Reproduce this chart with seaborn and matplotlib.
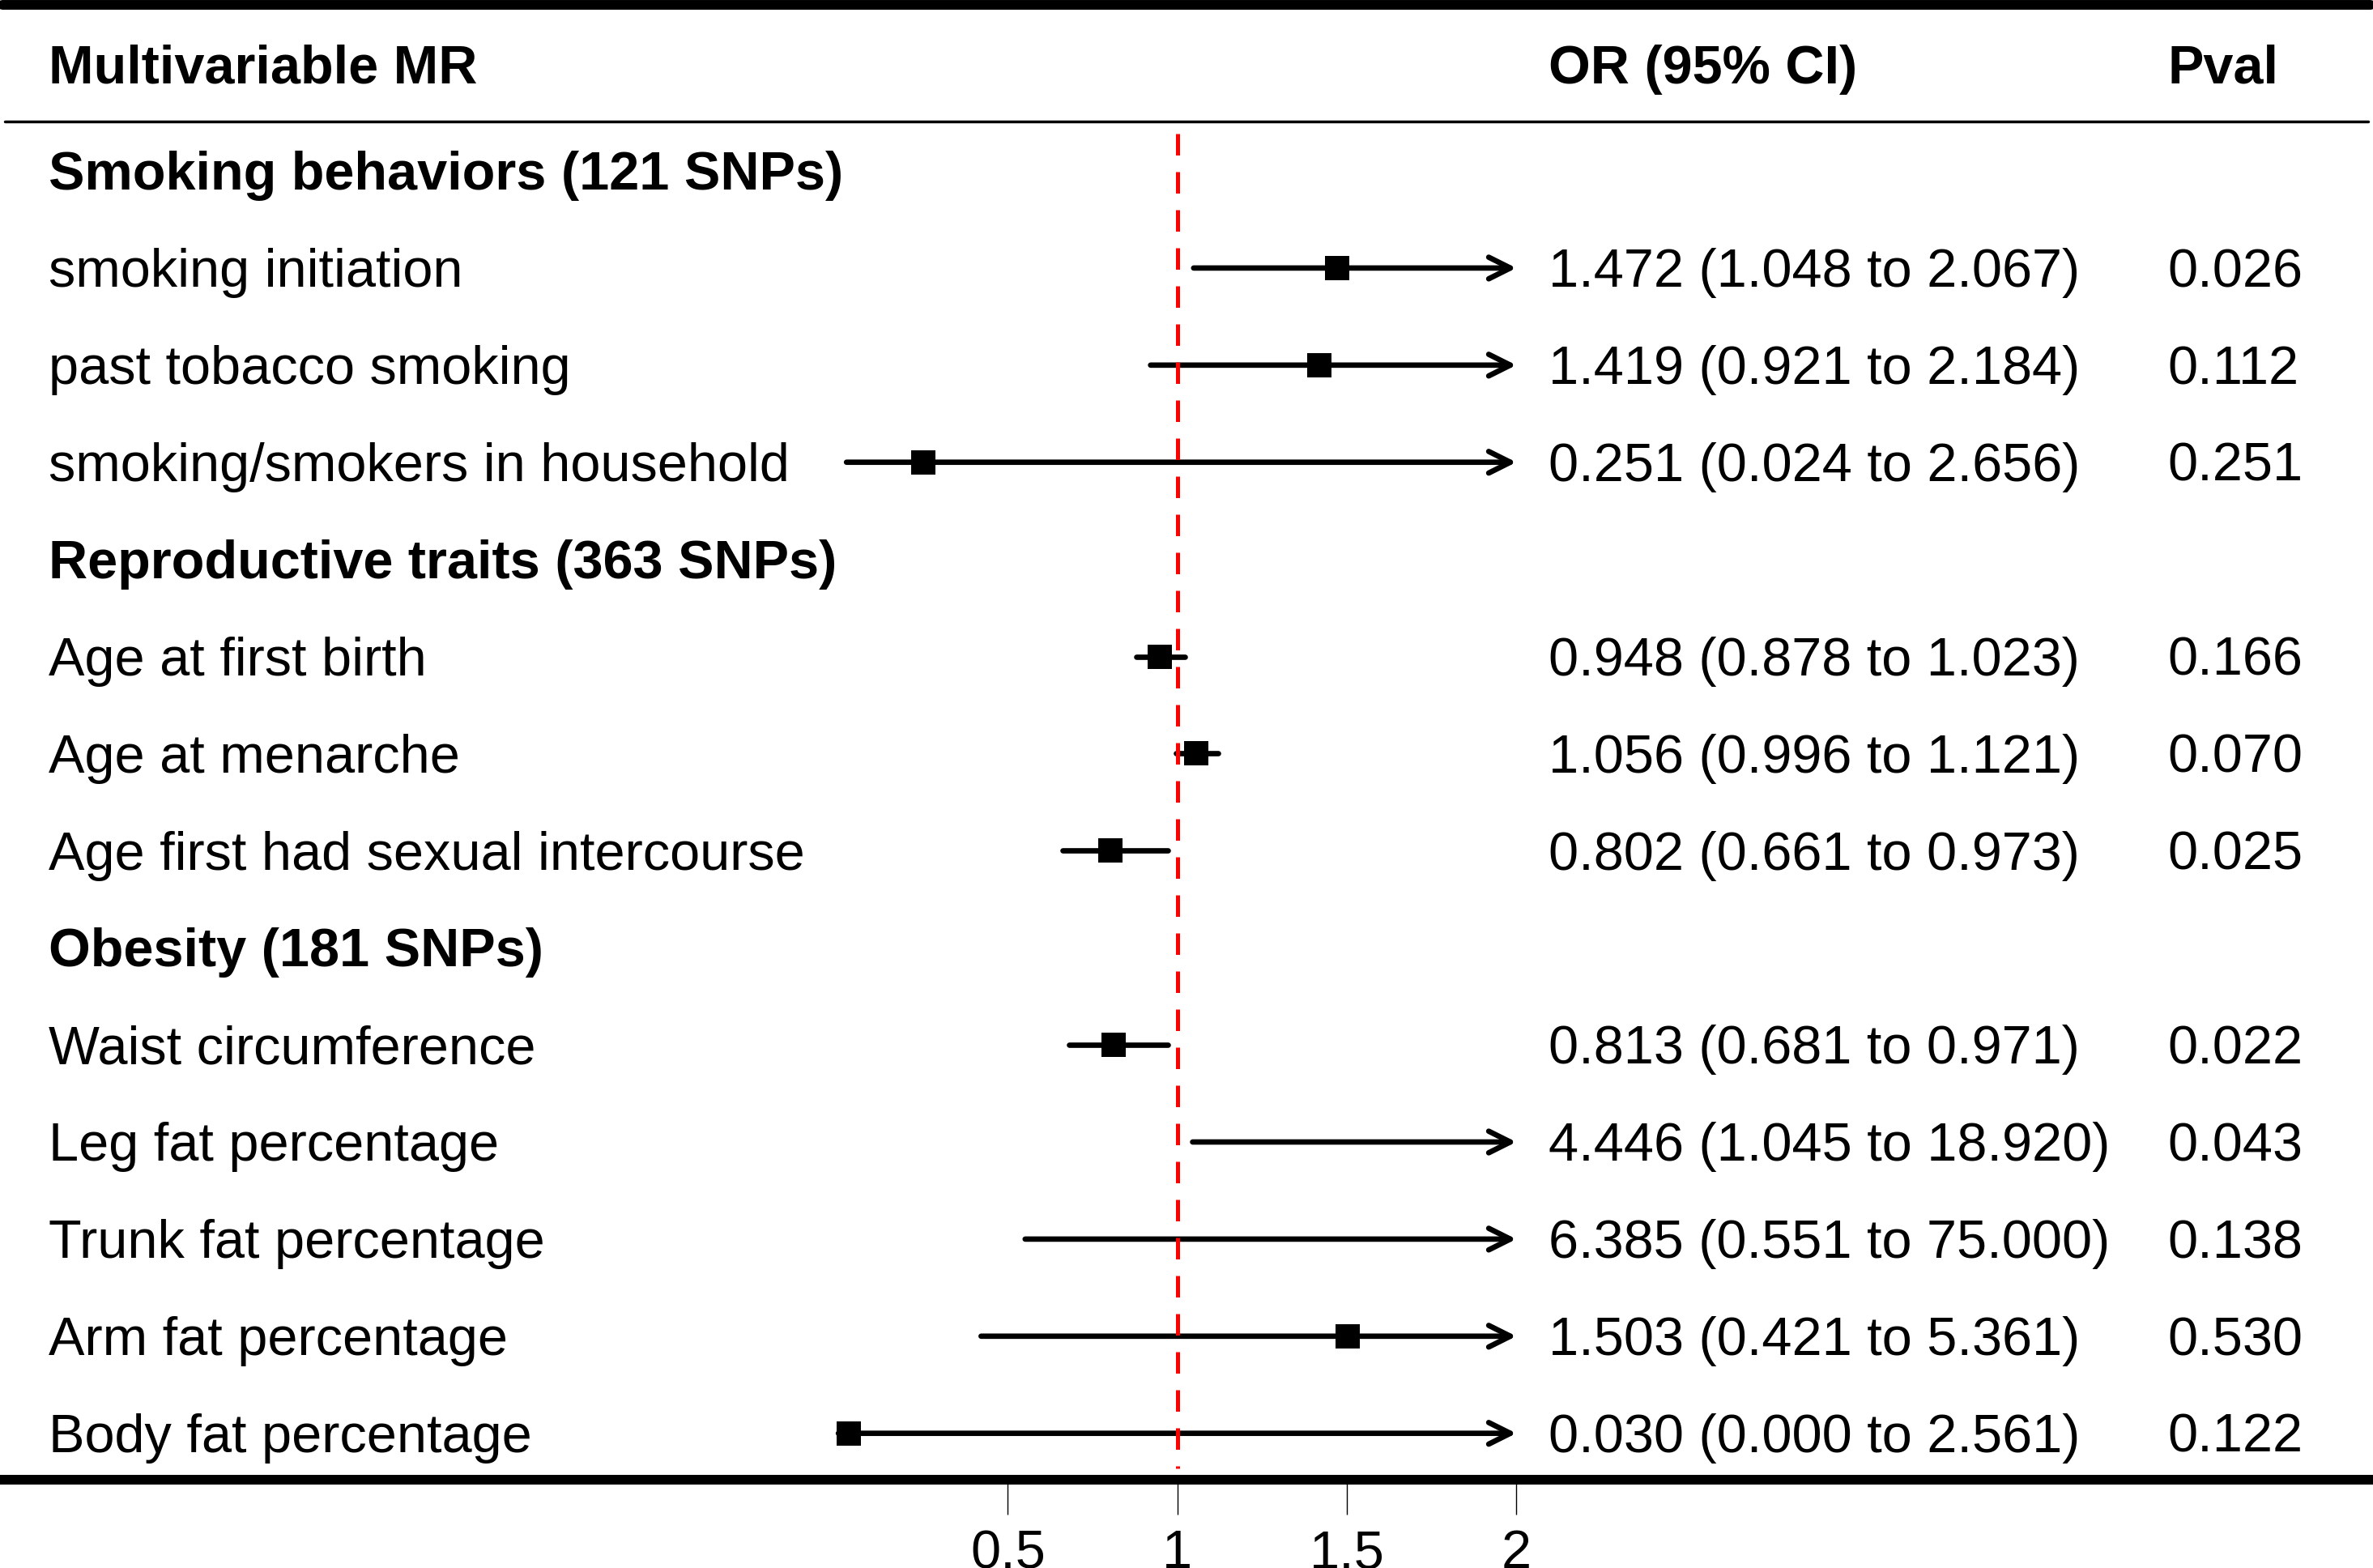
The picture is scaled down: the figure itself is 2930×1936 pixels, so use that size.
import numpy as np
import pandas as pd
import matplotlib.pyplot as plt
from matplotlib.transforms import blended_transform_factory
import seaborn as sns

group_names = ["Smoking behaviors (121 SNPs)",
               "Reproductive traits (363 SNPs)",
               "Obesity (181 SNPs)"]
exposures = ["smoking initiation", "past tobacco smoking", "smoking/smokers in household",
             "Age at first birth", "Age at menarche", "Age first had sexual intercourse",
             "Waist circumference", "Leg fat percentage", "Trunk fat percentage",
             "Arm fat percentage", "Body fat percentage"]
exposure_group = [0, 0, 0, 1, 1, 1, 2, 2, 2, 2, 2]
or_est = [1.472, 1.419, 0.251, 0.948, 1.056, 0.802, 0.813, 4.446, 6.385, 1.503, 0.030]
ci_low = [1.048, 0.921, 0.024, 0.878, 0.996, 0.661, 0.681, 1.045, 0.551, 0.421, 0.000]
ci_high = [2.067, 2.184, 2.656, 1.023, 1.121, 0.973, 0.971, 18.920, 75.000, 5.361, 2.561]
pvals = [0.026, 0.112, 0.251, 0.166, 0.070, 0.025, 0.022, 0.043, 0.138, 0.530, 0.122]
header = ["Multivariable MR", "OR (95% CI)", "Pval"]
x_ticks = [0.5, 1, 1.5, 2]
tick_labels = ["0.5", "1", "1.5", "2"]
null_value = 1

sns.set_theme(style="white")
plt.rcParams['font.family'] = ['Liberation Sans', 'DejaVu Sans']
plt.rcParams['text.color'] = 'black'
plt.rcParams['xtick.color'] = 'black'
plt.rcParams['axes.labelcolor'] = 'black'
FS = 48

# one row per group title, then its exposures
rows = []
for g, name in enumerate(group_names):
    rows.append(dict(label=name, kind='group'))
    for i in np.where(np.array(exposure_group) == g)[0]:
        rows.append(dict(label=exposures[i], kind='item', est=or_est[i],
                         lo=ci_low[i], hi=ci_high[i], p=pvals[i]))
df = pd.DataFrame(rows)
df['ypos'] = np.arange(len(df))
items = df[df['kind'] == 'item'].copy()

# plotted window of the forest part
x_min, x_max = 0, x_ticks[-1]
items['lo_c'] = items['lo'].clip(x_min, x_max)
items['hi_c'] = items['hi'].clip(x_min, x_max)

fig = plt.figure(figsize=(29.30, 19.36), dpi=100)
ax = fig.add_axes([0, 0, 1, 1])
ax.set_facecolor('white')

# confidence intervals
for _, r in items.iterrows():
    if r['hi'] > x_max:
        ax.annotate('', xy=(x_max, r['ypos']), xytext=(r['lo_c'], r['ypos']),
                    arrowprops=dict(arrowstyle='->,head_length=0.4,head_width=0.2',
                                    lw=4.8, color='black', mutation_scale=48,
                                    shrinkA=0, shrinkB=0, capstyle='round',
                                    joinstyle='round'),
                    zorder=2)
    else:
        ax.plot([r['lo_c'], r['hi_c']], [r['ypos'], r['ypos']], color='black',
                lw=4.8, solid_capstyle='round', zorder=2)

# reference line
ax.plot([null_value, null_value], [-0.384, 13.36], color='red', lw=3.6,
        dashes=(5.3, 4.1), zorder=3)

# point estimates inside the window
pts = items[(items['est'] >= x_min) & (items['est'] <= x_max)]
sns.scatterplot(data=pts, x='est', y='ypos', marker='s', s=467, color='black',
                edgecolor='none', linewidth=0, ax=ax, zorder=5, legend=False)

ax.set_xlim(-2.473, 4.527)
ax.set_ylim(14.387, -1.760)
ax.set_xlabel('')
ax.set_ylabel('')

# text columns
trans = blended_transform_factory(ax.transAxes, ax.transData)
col_x = [0.0205, 0.6527, 0.9135]
for x, h in zip(col_x, header):
    ax.text(x, -0.901, h, transform=trans, fontsize=FS, fontweight='bold',
            va='baseline', ha='left', color='black')
for _, r in df.iterrows():
    base = r['ypos'] + 0.194
    if r['kind'] == 'group':
        ax.text(col_x[0], base, r['label'], transform=trans, fontsize=FS,
                fontweight='bold', va='baseline', color='black')
    else:
        ax.text(col_x[0], base, r['label'], transform=trans, fontsize=FS,
                va='baseline', color='black')
        ax.text(col_x[1], base, f"{r['est']:.3f} ({r['lo']:.3f} to {r['hi']:.3f})",
                transform=trans, fontsize=FS, va='baseline', color='black')
        ax.text(col_x[2], base, f"{r['p']:.3f}", transform=trans, fontsize=FS,
                va='baseline', color='black')

# table rules
ax.axhline(-1.71, xmin=0.001, xmax=0.999, color='black', lw=8.6,
           solid_capstyle='round')
ax.axhline(-0.513, xmin=0.002, xmax=0.998, color='black', lw=2.5)

# bottom rule doubles as the x axis
for s in ['top', 'left', 'right']:
    ax.spines[s].set_visible(False)
ax.spines['bottom'].set_visible(True)
ax.spines['bottom'].set_position(('data', 13.478))
ax.spines['bottom'].set_linewidth(8.6)
ax.spines['bottom'].set_color('black')
ax.spines['bottom'].set_capstyle('round')
ax.set_xticks(x_ticks)
ax.set_xticklabels(tick_labels)
ax.set_yticks([])
ax.tick_params(axis='x', direction='out', length=31, width=1.0, pad=13,
               labelsize=FS, colors='black', bottom=True)
ax.grid(False)

fig.savefig('out.png', dpi=100)
